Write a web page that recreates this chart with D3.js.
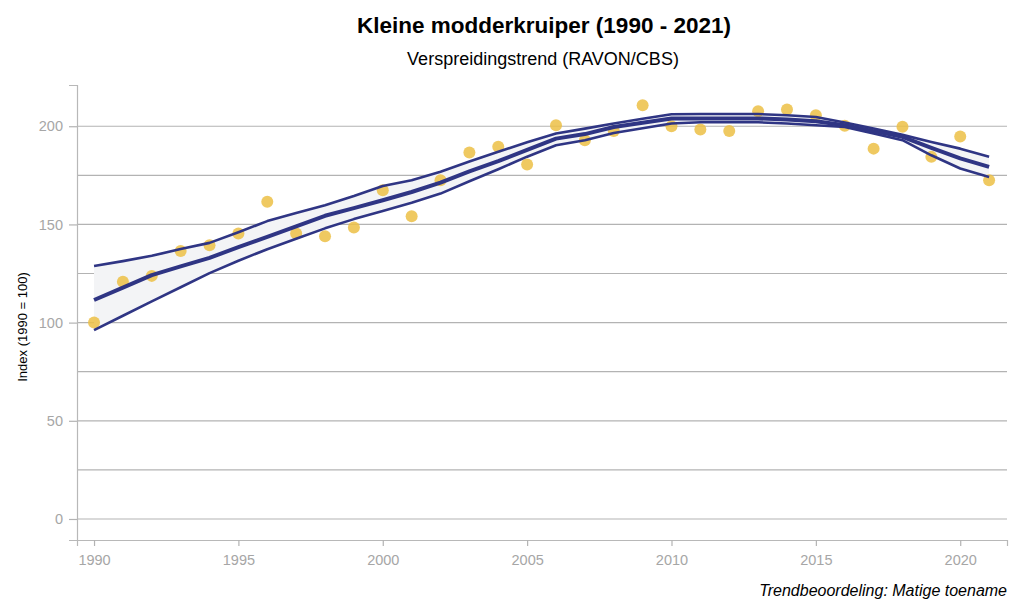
<!DOCTYPE html>
<html>
<head>
<meta charset="utf-8">
<script src="https://cdn.jsdelivr.net/npm/d3@7"></script>
<style>
  body { margin: 0; background: #fff; }
  svg { display: block; font-family: 'Liberation Sans', Arial, sans-serif; }
</style>
</head>
<body>
<svg width="1024" height="614"></svg>
<script>
// data
const years = d3.range(1990, 2022);
const observed = [100, 120.8, 123.8, 136.5, 139.4, 145.4, 161.5, 145.4, 144, 148.4,
  167.4, 154.2, 172.5, 186.6, 189.5, 180.5, 200.5, 192.9, 197.6, 210.7,
  200, 198.3, 197.6, 207.6, 208.5, 205.6, 200.2, 188.6, 199.7, 184.4, 194.8, 172.5];
const trend = [111.5, 117.8, 124.2, 128.6, 133, 138.4, 143.7, 149, 154.4, 158.3,
  162.3, 166.5, 171.3, 177, 182.2, 188, 193.7, 196, 199.6, 201.8,
  203.9, 204, 204, 204, 203.4, 202.5, 200.5, 197.5, 194.6, 189, 183.6, 179.3];
const lower = [96.2, 103.5, 110.8, 118, 125.2, 131.5, 137.4, 142.7, 148, 152.7,
  156.9, 161, 165.7, 172, 178.1, 184.5, 190.3, 192.9, 196.6, 199,
  201.4, 202, 202, 202, 201.4, 200.5, 199.6, 196.3, 192.9, 185.2, 178.5, 174.2];
const upper = [128.8, 131.3, 134, 137.5, 140.6, 146, 151.7, 155.8, 159.8, 164.5,
  169.6, 172.5, 176.8, 182, 187, 191.8, 196.3, 198.8, 201.4, 203.8,
  206.1, 206.2, 206.2, 206.2, 205.6, 204.7, 201.9, 198.8, 195.6, 192, 188.6, 184.4];
const xTicks = [1990, 1995, 2000, 2005, 2010, 2015, 2020];
const yTicks = [0, 50, 100, 150, 200];
const gridValues = [0, 25, 50, 75, 100, 125, 150, 175, 200];

const svg = d3.select('svg');
const MARGIN = { TOP: 85, RIGHT: 17, BOTTOM: 74, LEFT: 77 };
const WIDTH = +svg.attr('width') - MARGIN.LEFT - MARGIN.RIGHT;
const HEIGHT = +svg.attr('height') - MARGIN.TOP - MARGIN.BOTTOM;

const rows = years.map((yr, i) => ({
  year: yr, value: observed[i], trend: trend[i], lo: lower[i], hi: upper[i]
}));

const g = svg.append('g')
  .attr('transform', `translate(${MARGIN.LEFT}, ${MARGIN.TOP})`);

// scales
const x = d3.scaleLinear().domain([1989.41, 2021.62]).range([0, WIDTH]);
const y = d3.scaleLinear().domain([-10.7, 221]).range([HEIGHT, 0]);

// gridlines every 25
g.append('g')
  .selectAll('line')
  .data(gridValues)
  .enter()
  .append('line')
  .attr('x1', 0)
  .attr('x2', WIDTH)
  .attr('y1', d => y(d))
  .attr('y2', d => y(d))
  .style('stroke', '#b3b3b3')
  .style('stroke-width', 1.2);

// axes
const yAxis = g.append('g')
  .call(d3.axisLeft(y).tickValues(yTicks).tickSize(8).tickPadding(6));
const xAxis = g.append('g')
  .attr('transform', `translate(0,${HEIGHT})`)
  .call(d3.axisBottom(x).tickValues(xTicks).tickFormat(d3.format('d')).tickSize(6).tickPadding(9));

[yAxis, xAxis].forEach(ax => {
  ax.select('.domain').style('stroke', '#b8b8b8').style('stroke-width', 1.2);
  ax.selectAll('.tick line').style('stroke', '#b3b3b3').style('stroke-width', 1.2);
  ax.selectAll('.tick text')
    .style('fill', '#a6a6a6')
    .style('font-size', '14.5px')
    .style('font-family', "'Liberation Sans', Arial, sans-serif");
});

// confidence band
const band = d3.area()
  .x(d => x(d.year))
  .y0(d => y(d.lo))
  .y1(d => y(d.hi));

g.append('path')
  .datum(rows)
  .attr('d', band)
  .style('fill', '#f3f4f6');

// observed points
g.append('g')
  .selectAll('circle')
  .data(rows)
  .enter()
  .append('circle')
  .attr('cx', d => x(d.year))
  .attr('cy', d => y(d.value))
  .attr('r', 6)
  .style('fill', '#ecbf45')
  .style('opacity', 0.85);

// trend and bounds
const line = key => d3.line().x(d => x(d.year)).y(d => y(d[key]));

[['lo', 2.6], ['hi', 2.6], ['trend', 4]].forEach(([key, w]) => {
  g.append('path')
    .datum(rows)
    .attr('d', line(key))
    .style('fill', 'none')
    .style('stroke', '#2f3584')
    .style('stroke-width', w)
    .style('stroke-linejoin', 'round');
});

// titles
svg.append('text')
  .attr('x', 544)
  .attr('y', 33)
  .style('text-anchor', 'middle')
  .style('font-size', '22.5px')
  .style('font-weight', 'bold')
  .text('Kleine modderkruiper (1990 - 2021)');

svg.append('text')
  .attr('x', 543)
  .attr('y', 65)
  .style('text-anchor', 'middle')
  .style('font-size', '18px')
  .text('Verspreidingstrend (RAVON/CBS)');

svg.append('text')
  .attr('transform', 'translate(27,327) rotate(-90)')
  .style('text-anchor', 'middle')
  .style('font-size', '13px')
  .text('Index (1990 = 100)');

svg.append('text')
  .attr('x', 1007)
  .attr('y', 596)
  .style('text-anchor', 'end')
  .style('font-size', '16px')
  .style('font-style', 'italic')
  .text('Trendbeoordeling: Matige toename');
</script>
</body>
</html>
